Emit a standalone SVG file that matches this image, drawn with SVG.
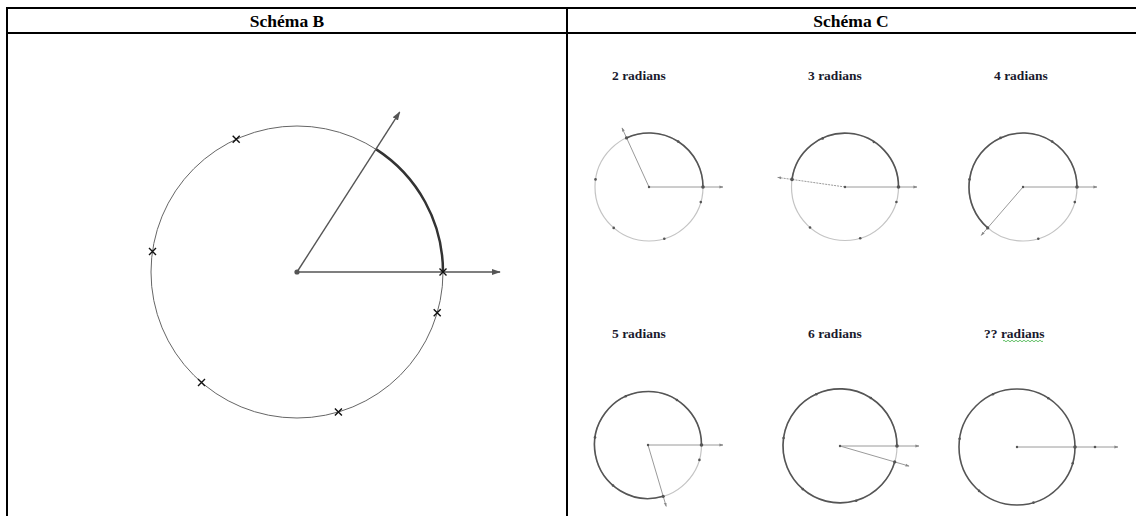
<svg xmlns="http://www.w3.org/2000/svg" width="1136" height="516" viewBox="0 0 1136 516">
<style>
.border{stroke:#000;stroke-width:2;fill:none}
.hdr{font-family:"Liberation Serif",serif;font-weight:bold;font-size:17.5px;fill:#000;text-anchor:middle}
.lbl{font-family:"Liberation Serif",serif;font-weight:bold;font-size:13.5px;fill:#1a1a2e}
.bcirc{fill:none;stroke:#666;stroke-width:1}
.barc{fill:none;stroke:#333;stroke-width:2.5}
.bray{stroke:#555;stroke-width:1.4;fill:none}
.cross{stroke:#111;stroke-width:1.4}
.scirc{fill:none;stroke:#c4c4c4;stroke-width:1.2}
.sarc{fill:none;stroke:#555;stroke-width:1.6}
.sray{stroke:#9a9a9a;stroke-width:1;fill:none}
.dot{fill:#555}
</style>
<defs>
<marker id="arrB" viewBox="0 0 10 10" refX="9" refY="5" markerWidth="9" markerHeight="9" markerUnits="userSpaceOnUse" orient="auto"><path d="M0,1.5 L10,5 L0,8.5 Z" fill="#555"/></marker>
<marker id="arrS" viewBox="0 0 10 10" refX="9" refY="5" markerWidth="4" markerHeight="4" markerUnits="userSpaceOnUse" orient="auto"><path d="M0,1.5 L10,5 L0,8.5 Z" fill="#888"/></marker>
<g id="xmark"><path class="cross" d="M-3.5,-3.5 L3.5,3.5 M-3.5,3.5 L3.5,-3.5"/></g>
</defs>

<g id="table">
<line class="border" x1="7" y1="8" x2="1136" y2="8"/>
<line class="border" x1="7" y1="33" x2="1136" y2="33"/>
<line class="border" x1="7" y1="7" x2="7" y2="516"/>
<line class="border" x1="567" y1="7" x2="567" y2="516"/>
<text class="hdr" x="287" y="27">Schéma B</text>
<text class="hdr" x="851" y="27">Schéma C</text>
</g>

<g id="schemaB">
<circle class="bcirc" cx="297" cy="272" r="146"/>
<path class="barc" d="M443,272 A146,146 0 0 0 375.9,149.1"/>
<g id="connectors">
<line class="bray" x1="297" y1="272" x2="500" y2="272" marker-end="url(#arrB)"/>
<line class="bray" x1="297" y1="272" x2="399.7" y2="112.1" marker-end="url(#arrB)"/>
</g>
<circle cx="297" cy="272" r="2.6" fill="#555"/>
<use href="#xmark" x="443" y="272"/>
<use href="#xmark" x="236.2" y="139.2"/>
<use href="#xmark" x="152.5" y="251.4"/>
<use href="#xmark" x="201.5" y="382.5"/>
<use href="#xmark" x="338.4" y="412"/>
<use href="#xmark" x="437.2" y="312.8"/>
</g>

<g id="c2">
<text class="lbl" x="612" y="80">2 radians</text>
<circle class="scirc" cx="649" cy="187" r="54"/>
<path class="sarc" d="M703,187 A54,54 0 0 0 626.5,137.9"/>
<line class="sray" x1="649" y1="187" x2="723" y2="187" marker-end="url(#arrS)"/>
<line class="sray" x1="649" y1="187" x2="622" y2="127.9" marker-end="url(#arrS)"/>
<g class="dot"><circle cx="649" cy="187" r="1.2"/><circle cx="703" cy="187" r="1.8"/><circle cx="678.2" cy="141.6" r="1.3"/><circle cx="626.5" cy="137.9" r="1.6"/><circle cx="595.5" cy="179.4" r="1.3"/><circle cx="613.7" cy="227.9" r="1.3"/><circle cx="664.3" cy="238.8" r="1.3"/><circle cx="700.8" cy="202.1" r="1.3"/></g>
</g>

<g id="c3">
<text class="lbl" x="808" y="80">3 radians</text>
<circle class="scirc" cx="845" cy="187" r="53.5"/>
<path class="sarc" d="M898.5,187 A53.5,53.5 0 0 0 792,179.4"/>
<line class="sray" x1="845" y1="187" x2="917" y2="187" marker-end="url(#arrS)"/>
<line class="sray" x1="845" y1="187" x2="777.7" y2="177.4" marker-end="url(#arrS)" stroke-dasharray="2,1"/>
<g class="dot"><circle cx="845" cy="187" r="1.2"/><circle cx="898.5" cy="187" r="1.8"/><circle cx="873.9" cy="142" r="1.3"/><circle cx="822.7" cy="138.4" r="1.3"/><circle cx="792" cy="179.4" r="1.8"/><circle cx="810" cy="227.5" r="1.3"/><circle cx="860.2" cy="238.3" r="1.3"/><circle cx="896.4" cy="202" r="1.3"/></g>
</g>

<g id="c4">
<text class="lbl" x="994" y="80">4 radians</text>
<circle class="scirc" cx="1023" cy="187" r="54"/>
<path class="sarc" d="M1077,187 A54,54 0 1 0 987.7,227.9"/>
<line class="sray" x1="1023" y1="187" x2="1097" y2="187" marker-end="url(#arrS)"/>
<line class="sray" x1="1023" y1="187" x2="981.2" y2="235.4" marker-end="url(#arrS)"/>
<g class="dot"><circle cx="1023" cy="187" r="1.2"/><circle cx="1077" cy="187" r="1.8"/><circle cx="1052.2" cy="141.6" r="1.3"/><circle cx="1000.5" cy="137.9" r="1.3"/><circle cx="969.5" cy="179.4" r="1.3"/><circle cx="987.7" cy="227.9" r="1.6"/><circle cx="1038.3" cy="238.8" r="1.3"/><circle cx="1074.8" cy="202.1" r="1.3"/></g>
</g>

<g id="c5">
<text class="lbl" x="612" y="338">5 radians</text>
<circle class="scirc" cx="648" cy="445" r="53.5"/>
<path class="sarc" d="M701.5,445 A53.5,53.5 0 1 0 663.2,496.3"/>
<line class="sray" x1="648" y1="445" x2="723" y2="445" marker-end="url(#arrS)"/>
<line class="sray" x1="648" y1="445" x2="666.2" y2="506.4" marker-end="url(#arrS)"/>
<g class="dot"><circle cx="648" cy="445" r="1.2"/><circle cx="701.5" cy="445" r="1.8"/><circle cx="676.9" cy="400" r="1.3"/><circle cx="625.7" cy="396.3" r="1.3"/><circle cx="595" cy="437.4" r="1.3"/><circle cx="613" cy="485.5" r="1.3"/><circle cx="663.2" cy="496.3" r="1.6"/><circle cx="699.4" cy="459.9" r="1.3"/></g>
</g>

<g id="c6">
<text class="lbl" x="808" y="338">6 radians</text>
<circle class="scirc" cx="840" cy="446" r="57"/>
<path class="sarc" d="M897,446 A57,57 0 1 0 894.7,461.9"/>
<line class="sray" x1="840" y1="446" x2="919" y2="446" marker-end="url(#arrS)"/>
<line class="sray" x1="840" y1="446" x2="909.1" y2="466.1" marker-end="url(#arrS)"/>
<g class="dot"><circle cx="840" cy="446" r="1.2"/><circle cx="897" cy="446" r="1.8"/><circle cx="870.8" cy="398" r="1.3"/><circle cx="816.3" cy="394.2" r="1.3"/><circle cx="783.6" cy="438" r="1.3"/><circle cx="802.7" cy="489.1" r="1.3"/><circle cx="856.2" cy="500.7" r="1.3"/><circle cx="894.7" cy="461.9" r="1.6"/></g>
</g>

<g id="cq">
<text class="lbl" x="984" y="338">?? radians</text>
<path d="M1003,341 q1,-1.5 2,0 t2,0 t2,0 t2,0 t2,0 t2,0 t2,0 t2,0 t2,0 t2,0 t2,0 t2,0 t2,0 t2,0 t2,0 t2,0 t2,0 t2,0 t2,0 t2,0" fill="none" stroke="#3cb043" stroke-width="0.8"/>
<circle class="sarc" cx="1017" cy="447" r="58"/>
<line class="sray" x1="1017" y1="447" x2="1118" y2="447" stroke-width="1.6" marker-end="url(#arrS)"/>
<g class="dot"><circle cx="1017" cy="447" r="1.2"/><circle cx="1075" cy="447" r="1.8"/><circle cx="1095" cy="447" r="1.3"/><circle cx="1048.3" cy="398.2" r="1.3"/><circle cx="992.9" cy="394.3" r="1.3"/><circle cx="959.6" cy="438.8" r="1.3"/><circle cx="979.1" cy="490.9" r="1.3"/><circle cx="1033.5" cy="502.6" r="1.3"/><circle cx="1072.7" cy="463.2" r="1.3"/></g>
</g>
</svg>
